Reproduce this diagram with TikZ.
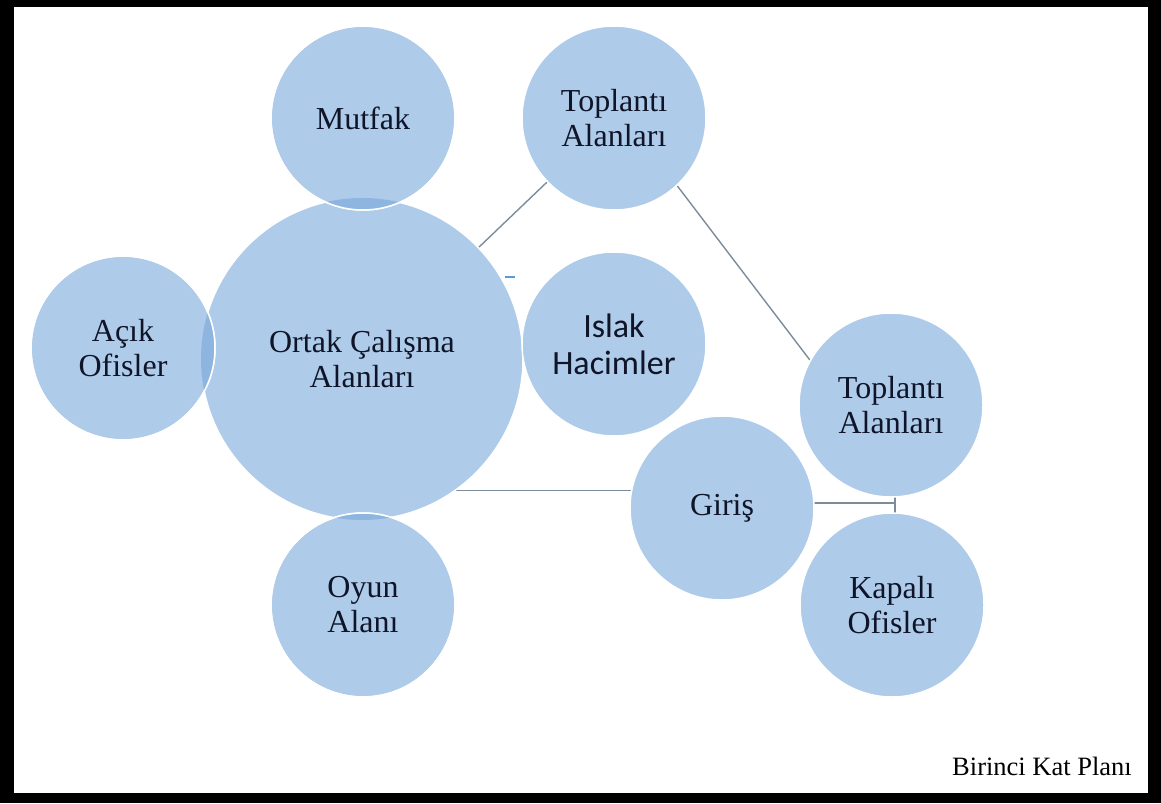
\documentclass[tikz,border=0pt]{standalone}
\usepackage{fontspec}
\setmainfont{Liberation Serif}
\newfontfamily\carlito{Carlito}
\pgfdeclarelayer{bg}
\pgfsetlayers{bg,main}
\definecolor{bubble}{RGB}{174,203,233}
\definecolor{lenscol}{RGB}{141,181,224}
\definecolor{conncol}{RGB}{125,140,155}
\definecolor{txt}{RGB}{15,20,40}
\definecolor{dashcol}{RGB}{91,155,213}
\begin{document}
\begin{tikzpicture}[x=1pt,y=-1pt,
  bub/.style={circle,fill=bubble,draw=white,line width=1.5pt,inner sep=0pt,
    minimum size=184pt,text=txt,align=center,font=\fontsize{32}{35}\selectfont},
  conn/.style={draw=conncol,line width=1.4pt},
  lensfill/.style={fill=lenscol},
  rim/.style={draw=white,line width=1.5pt}]
\useasboundingbox (0,0) rectangle (1161,803);
\begin{pgfonlayer}{bg}
\fill[black] (0,0) rectangle (1161,803);
\fill[white] (14,7) rectangle (1148,793);
\end{pgfonlayer}
% circles
\node[bub,minimum size=322pt] (ortak) at (362,359) {Ortak Çalışma\\Alanları};
\node[bub] (mut) at (363,118) {Mutfak};
\node[bub] (acik) at (123,348) {Açık\\Ofisler};
\node[bub] (oyun) at (363,605) {Oyun\\Alanı};
\node[bub] (t1) at (614,118) {Toplantı\\Alanları};
\node[bub,font=\carlito\fontsize{34}{37}\selectfont] (islak) at (614,344) {Islak\\Hacimler};
\node[bub] (t2) at (891,405) {Toplantı\\Alanları};
\node[bub] (giris) at (722,508) {Giriş};
\node[bub] (kap) at (892,605) {Kapalı\\Ofisler};
% overlap lenses
\begin{scope}
  \clip (mut.center) circle (92pt);
  \fill[lensfill] (ortak.center) circle (161pt);
\end{scope}
\draw[rim] (mut.center) circle (92pt);
\begin{scope}
  \clip (acik.center) circle (92pt);
  \fill[lensfill] (ortak.center) circle (161pt);
\end{scope}
\draw[rim] (acik.center) circle (92pt);
\begin{scope}
  \clip (oyun.center) circle (92pt);
  \fill[lensfill] (ortak.center) circle (161pt);
\end{scope}
\draw[rim] (oyun.center) circle (92pt);
% caption
\node[anchor=base,text=black,font=\fontsize{26.5}{30}\selectfont] (cap) at (1042,775) {Birinci Kat Planı};
% connectors (behind circles)
\coordinate (jn) at (895,503);
\coordinate (mk1) at (505,277);
\coordinate (mk2) at (515,277);
\begin{pgfonlayer}{bg}
\draw[conn] (ortak) -- (t1);
\draw[conn] (t1.-47) -- (t2.151);
\draw[conn] (ortak.center |- giris.169) -- (giris.169);
\draw[conn] (giris.center |- jn) -- (jn);
\draw[conn] (jn |- t2.center) -- (jn |- kap.center);
\draw[conn] (ortak) -- (islak);
\draw[draw=dashcol,line width=1.4pt] (mk1) -- (mk2);
\end{pgfonlayer}
\end{tikzpicture}
\end{document}
